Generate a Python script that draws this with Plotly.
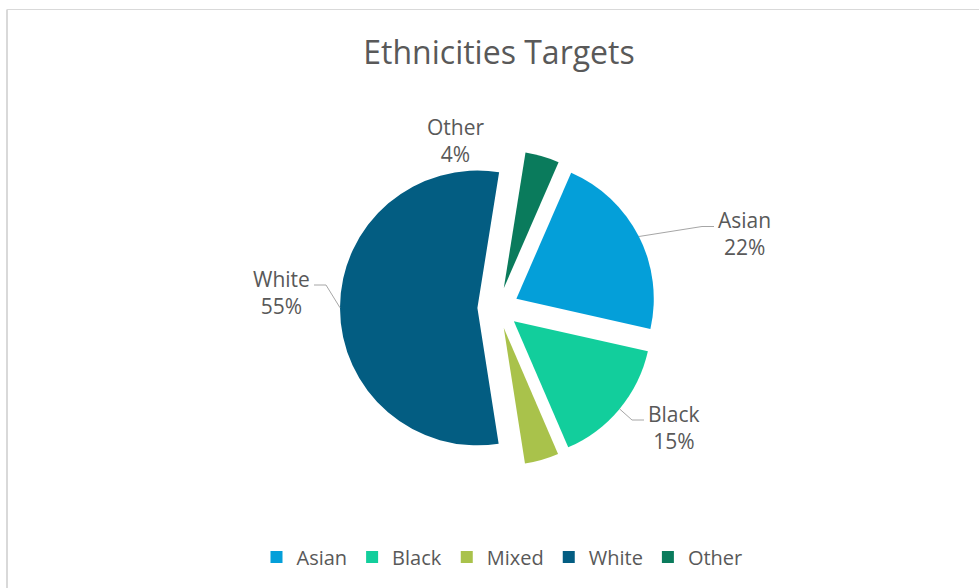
import math
import plotly.graph_objects as go

# ---- data ----
labels = ["Asian", "Black", "Mixed", "White", "Other"]
values = [22, 15, 4, 55, 4]
show_label = [True, True, False, True, True]
colors = ["#049FD9", "#12CE9C", "#A9C24B", "#035D82", "#0A7B5C"]

# ---- layout constants (pixels) ----
W, H = 979, 588
CX, CY = 498, 308          # pie centre
HALF = 158                 # half height of the pie box
PULL = 0.15                # explosion of every slice
ROT = 23.5                 # start angle of first slice, clockwise from 12 o'clock
TEXT = "#595959"
FONT = "Open Sans"

# label anchor offsets from the pie centre and which side the leader line enters
label_layout = {
    "Asian": dict(dx=218, dy=-74.5, side="left"),
    "Black": dict(dx=148, dy=119, side="left"),
    "White": dict(dx=-186, dy=-16, side="right"),
    "Other": dict(dx=-43, dy=-168, side=None),
}


def px(x, y):
    """pixel position -> paper coordinates (margins are zero)"""
    return x / W, 1 - y / H


fig = go.Figure(
    go.Pie(
        labels=labels,
        values=values,
        sort=False,
        direction="clockwise",
        rotation=ROT,
        pull=[PULL] * len(values),
        marker=dict(colors=colors, line=dict(width=0)),
        textinfo="none",
        hoverinfo="label+percent",
        domain=dict(
            x=[(CX - 250) / W, (CX + 250) / W],
            y=[1 - (CY + HALF) / H, 1 - (CY - HALF) / H],
        ),
    )
)

total = sum(values)
annotations = []
shapes = []
angle = ROT
for lab, val, show in zip(labels, values, show_label):
    span = 360 * val / total
    mid = math.radians(angle + span / 2)
    angle += span
    if not show:
        continue
    cfg = label_layout[lab]
    lx, ly = CX + cfg["dx"], CY + cfg["dy"]
    pct = round(100 * val / total)
    side = cfg["side"]
    xanchor = {"left": "left", "right": "right", None: "center"}[side]
    ax, ay = px(lx, ly)
    annotations.append(dict(
        x=ax, y=ay, xref="paper", yref="paper",
        xanchor=xanchor, yanchor="middle", align="center",
        text=f"{lab}<br>{pct}%", showarrow=False,
        font=dict(family=FONT, size=21, color=TEXT),
    ))
    if side is None:
        continue
    # leader line: arc point at mid-angle -> elbow -> label edge
    sx = CX + HALF * math.sin(mid)
    sy = CY - HALF * math.cos(mid)
    ex = lx - 2 if side == "left" else lx + 2
    ey = ly - 7
    bx = ex - 12 if side == "left" else ex + 12
    p = [px(sx, sy), px(bx, ey), px(ex, ey)]
    shapes.append(dict(
        type="path", xref="paper", yref="paper",
        path="M {} {} L {} {} L {} {}".format(*p[0], *p[1], *p[2]),
        line=dict(color="#A6A6A6", width=1),
    ))

# chart-area frame (left and top edges)
shapes.append(dict(type="line", xref="paper", yref="paper",
                   x0=7 / W, x1=7 / W, y0=-0.1, y1=1 - 9.5 / H,
                   line=dict(color="#D9D9D9", width=2)))
shapes.append(dict(type="line", xref="paper", yref="paper",
                   x0=7 / W, x1=1.1, y0=1 - 9.5 / H, y1=1 - 9.5 / H,
                   line=dict(color="#D9D9D9", width=1)))

fig.update_layout(
    width=W, height=H, autosize=False,
    margin=dict(l=0, r=0, t=0, b=0),
    paper_bgcolor="white", plot_bgcolor="white",
    title=dict(text="Ethnicities Targets", x=499 / W, xanchor="center",
               y=1 - 53 / H, yanchor="middle",
               font=dict(family=FONT, size=32, color=TEXT)),
    showlegend=True,
    legend=dict(orientation="h", x=502 / W, xanchor="center",
                y=1 - 557 / H, yanchor="middle",
                font=dict(family=FONT, size=20, color=TEXT),
                traceorder="normal"),
    annotations=annotations,
    shapes=shapes,
)

fig.write_html("out.html")
